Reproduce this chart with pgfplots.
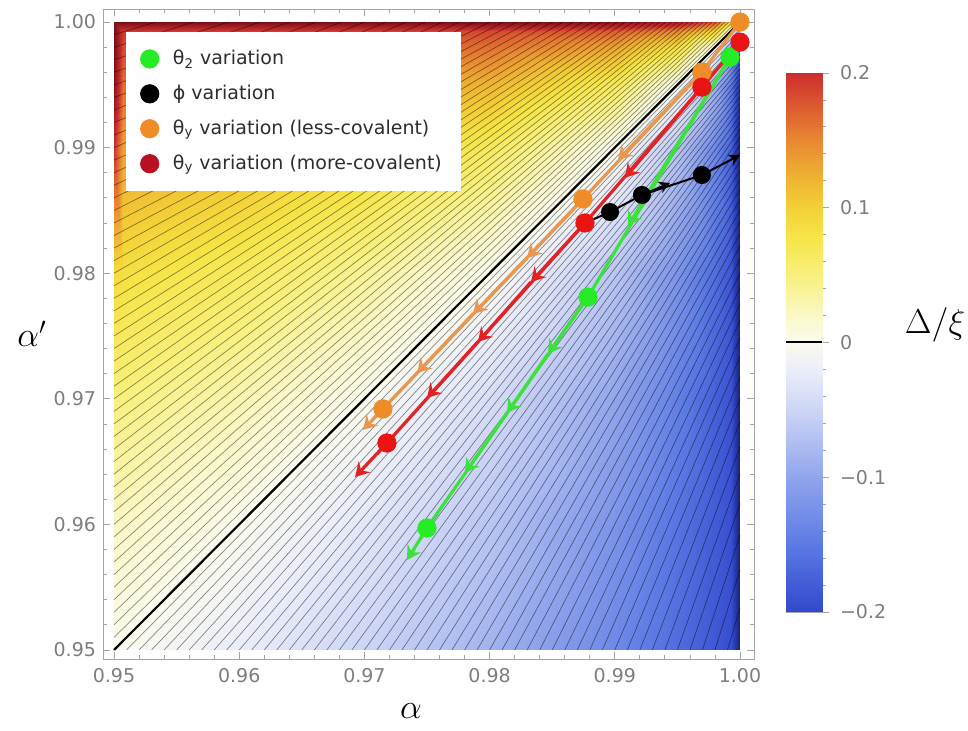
\documentclass[border=0pt]{standalone}
\usepackage[no-math]{fontspec}
\setmainfont{DejaVu Sans}
\usepackage{pgfplots}
\pgfplotsset{compat=1.18}
\usetikzlibrary{arrows.meta}

\definecolor{gline}{RGB}{60,225,60}
\definecolor{gdot}{RGB}{40,235,40}
\definecolor{rline}{RGB}{225,35,35}
\definecolor{rdot}{RGB}{235,20,20}
\definecolor{oline}{RGB}{232,150,80}
\definecolor{odot}{RGB}{240,140,40}
\definecolor{legred}{RGB}{185,15,35}
\definecolor{tickgray}{RGB}{125,125,125}
\definecolor{framegray}{RGB}{165,165,165}
\definecolor{legtext}{RGB}{45,45,45}

\pgfplotsset{
  colormap={delta}{
    rgb255(0cm)=(25,30,110)
    rgb255(12cm)=(50,72,205)
    rgb255(22cm)=(92,122,228)
    rgb255(32cm)=(145,165,236)
    rgb255(42cm)=(205,213,246)
    rgb255(48cm)=(236,238,249)
    rgb255(52cm)=(251,251,238)
    rgb255(56cm)=(250,248,200)
    rgb255(62cm)=(248,240,125)
    rgb255(68cm)=(246,228,70)
    rgb255(72cm)=(243,208,55)
    rgb255(77cm)=(238,175,50)
    rgb255(82cm)=(232,135,50)
    rgb255(87cm)=(220,92,48)
    rgb255(92cm)=(205,45,45)
    rgb255(104cm)=(120,15,22)
  }
}

\begin{document}
\begin{tikzpicture}
\useasboundingbox (-51.5pt,-36pt) rectangle (432.5pt,329.5pt);

\begin{axis}[
  at={(0pt,0pt)}, anchor=south west,
  scale only axis, width=325.5pt, height=325pt,
  xmin=0.94912, xmax=1.00112, ymin=0.94928, ymax=1.00104,
  clip=false,
  axis line style={framegray},
  tick style={framegray, line width=0.4pt},
  tick align=inside, xtick pos=both, ytick pos=both,
  xticklabel pos=lower, yticklabel pos=left,
  major tick length=3.5pt, minor tick length=2pt,
  xtick={0.95,0.96,0.97,0.98,0.99,1},
  ytick={0.95,0.96,0.97,0.98,0.99,1},
  minor tick num=4,
  /pgf/number format/fixed, /pgf/number format/fixed zerofill,
  /pgf/number format/precision=2,
  /pgf/number format/assume math mode=true,
  tick label style={font=\fontsize{9.5}{11}\selectfont, text=tickgray},
  xticklabel shift=1pt,
  point meta min=-0.26, point meta max=0.26, colormap name=delta,
  xlabel={$\alpha$}, ylabel={$\alpha'$},
  every axis x label/.style={at={(axis description cs:0.473,-0.08)}, anchor=center, font=\fontsize{17}{20}\selectfont},
  every axis y label/.style={at={(axis description cs:-0.109,0.5)}, anchor=center, font=\fontsize{17}{20}\selectfont},
  legend style={at={(axis description cs:0.034,0.965)}, anchor=north west, draw=none, fill=white,
    font=\fontsize{9.5}{11}\selectfont, text=legtext, inner xsep=7.5pt, inner ysep=7pt,
    row sep=4.7pt, column sep=5pt},
  legend cell align=left,
]

\addlegendimage{only marks, mark=*, mark size=4.6pt, color=gdot}
\addlegendentry{θ\textsubscript{2} variation}
\addlegendimage{only marks, mark=*, mark size=4.6pt, color=black}
\addlegendentry{ϕ variation}
\addlegendimage{only marks, mark=*, mark size=4.6pt, color=odot}
\addlegendentry{θ\textsubscript{y} variation (less-covalent)}
\addlegendimage{only marks, mark=*, mark size=4.6pt, color=legred}
\addlegendentry{θ\textsubscript{y} variation (more-covalent)}

% background field Delta/xi
\addplot[surf, shader=interp, mesh/cols=10, mesh/rows=9, point meta=explicit, forget plot]
  table[meta=c] {
x y c
0.95 0.95 0
0.9507 0.95 -0.0014
0.96 0.95 -0.0222
0.97 0.95 -0.05
0.98 0.95 -0.0857
0.99 0.95 -0.1333
0.995 0.95 -0.1636
0.998 0.95 -0.1846
0.9993 0.95 -0.1945
1.0 0.95 -0.26
0.95 0.96 0.0222
0.9507 0.96 0.0208
0.96 0.96 0
0.97 0.96 -0.0286
0.98 0.96 -0.0667
0.99 0.96 -0.12
0.995 0.96 -0.1556
0.998 0.96 -0.181
0.9993 0.96 -0.1931
1.0 0.96 -0.26
0.95 0.97 0.05
0.9507 0.97 0.0487
0.96 0.97 0.0286
0.97 0.97 0
0.98 0.97 -0.04
0.99 0.97 -0.1
0.995 0.97 -0.1429
0.998 0.97 -0.175
0.9993 0.97 -0.1909
1.0 0.97 -0.26
0.95 0.98 0.09
0.9507 0.98 0.0846
0.96 0.98 0.0667
0.97 0.98 0.04
0.98 0.98 0
0.99 0.98 -0.0667
0.995 0.98 -0.12
0.998 0.98 -0.1636
0.9993 0.98 -0.1865
1.0 0.98 -0.26
0.95 0.99 0.2
0.9507 0.99 0.1325
0.96 0.99 0.12
0.97 0.99 0.1
0.98 0.99 0.0667
0.99 0.99 0
0.995 0.99 -0.0667
0.998 0.99 -0.1333
0.9993 0.99 -0.1738
1.0 0.99 -0.26
0.95 0.995 0.25
0.9507 0.995 0.1632
0.96 0.995 0.1556
0.97 0.995 0.1429
0.98 0.995 0.12
0.99 0.995 0.0667
0.995 0.995 0
0.998 0.995 -0.0857
0.9993 0.995 -0.1509
1.0 0.995 -0.24
0.95 0.998 0.26
0.9507 0.998 0.1844
0.96 0.998 0.181
0.97 0.998 0.175
0.98 0.998 0.1636
0.99 0.998 0.1333
0.995 0.998 0.0857
0.998 0.998 0
0.9993 0.998 -0.0963
1.0 0.998 -0.18
0.95 0.9993 0.26
0.9507 0.9993 0.1944
0.96 0.9993 0.1931
0.97 0.9993 0.1909
0.98 0.9993 0.1865
0.99 0.9993 0.1738
0.995 0.9993 0.1509
0.998 0.9993 0.0963
0.9993 0.9993 0
1.0 0.9993 -0.1
0.95 1.0 0.26
0.9507 1.0 0.26
0.96 1.0 0.26
0.97 1.0 0.26
0.98 1.0 0.26
0.99 1.0 0.25
0.995 1.0 0.23
0.998 1.0 0.18
0.9993 1.0 0.1
1.0 1.0 0
};

% contour lines (segments separated by nan)
\addplot[draw=black, draw opacity=0.45, line width=0.35pt, unbounded coords=jump, forget plot]
  table {
x y
0.95 0.999
0.95333 1
nan nan
0.95 0.998
0.95636 1
nan nan
0.95 0.997
0.95913 1
nan nan
0.95 0.996
0.96167 1
nan nan
0.95 0.995
0.964 1
nan nan
0.95 0.994
0.96615 1
nan nan
0.95 0.993
0.96815 1
nan nan
0.95 0.992
0.97 1
nan nan
0.95 0.991
0.97172 1
nan nan
0.95 0.990
0.97333 1
nan nan
0.95 0.989
0.97484 1
nan nan
0.95 0.988
0.97625 1
nan nan
0.95 0.987
0.97758 1
nan nan
0.95 0.986
0.97882 1
nan nan
0.95 0.985
0.98 1
nan nan
0.95 0.984
0.98111 1
nan nan
0.95 0.983
0.98216 1
nan nan
0.95 0.982
0.98316 1
nan nan
0.95 0.981
0.9841 1
nan nan
0.95 0.980
0.985 1
nan nan
0.95 0.979
0.98585 1
nan nan
0.95 0.978
0.98667 1
nan nan
0.95 0.977
0.98744 1
nan nan
0.95 0.976
0.98818 1
nan nan
0.95 0.975
0.98889 1
nan nan
0.95 0.974
0.98957 1
nan nan
0.95 0.973
0.99021 1
nan nan
0.95 0.972
0.99083 1
nan nan
0.95 0.971
0.99143 1
nan nan
0.95 0.970
0.992 1
nan nan
0.95 0.969
0.99255 1
nan nan
0.95 0.968
0.99308 1
nan nan
0.95 0.967
0.99358 1
nan nan
0.95 0.966
0.99407 1
nan nan
0.95 0.965
0.99455 1
nan nan
0.95 0.964
0.995 1
nan nan
0.95 0.963
0.99544 1
nan nan
0.95 0.962
0.99586 1
nan nan
0.95 0.961
0.99627 1
nan nan
0.95 0.960
0.99667 1
nan nan
0.95 0.959
0.99705 1
nan nan
0.95 0.958
0.99742 1
nan nan
0.95 0.957
0.99778 1
nan nan
0.95 0.956
0.99813 1
nan nan
0.95 0.955
0.99846 1
nan nan
0.95 0.954
0.99879 1
nan nan
0.95 0.953
0.9991 1
nan nan
0.95 0.952
0.99941 1
nan nan
0.95 0.951
0.99971 1
nan nan
0.999 0.95
1 0.95333
nan nan
0.998 0.95
1 0.95636
nan nan
0.997 0.95
1 0.95913
nan nan
0.996 0.95
1 0.96167
nan nan
0.995 0.95
1 0.964
nan nan
0.994 0.95
1 0.96615
nan nan
0.993 0.95
1 0.96815
nan nan
0.992 0.95
1 0.97
nan nan
0.991 0.95
1 0.97172
nan nan
0.990 0.95
1 0.97333
nan nan
0.989 0.95
1 0.97484
nan nan
0.988 0.95
1 0.97625
nan nan
0.987 0.95
1 0.97758
nan nan
0.986 0.95
1 0.97882
nan nan
0.985 0.95
1 0.98
nan nan
0.984 0.95
1 0.98111
nan nan
0.983 0.95
1 0.98216
nan nan
0.982 0.95
1 0.98316
nan nan
0.981 0.95
1 0.9841
nan nan
0.980 0.95
1 0.985
nan nan
0.979 0.95
1 0.98585
nan nan
0.978 0.95
1 0.98667
nan nan
0.977 0.95
1 0.98744
nan nan
0.976 0.95
1 0.98818
nan nan
0.975 0.95
1 0.98889
nan nan
0.974 0.95
1 0.98957
nan nan
0.973 0.95
1 0.99021
nan nan
0.972 0.95
1 0.99083
nan nan
0.971 0.95
1 0.99143
nan nan
0.970 0.95
1 0.992
nan nan
0.969 0.95
1 0.99255
nan nan
0.968 0.95
1 0.99308
nan nan
0.967 0.95
1 0.99358
nan nan
0.966 0.95
1 0.99407
nan nan
0.965 0.95
1 0.99455
nan nan
0.964 0.95
1 0.995
nan nan
0.963 0.95
1 0.99544
nan nan
0.962 0.95
1 0.99586
nan nan
0.961 0.95
1 0.99627
nan nan
0.960 0.95
1 0.99667
nan nan
0.959 0.95
1 0.99705
nan nan
0.958 0.95
1 0.99742
nan nan
0.957 0.95
1 0.99778
nan nan
0.956 0.95
1 0.99813
nan nan
0.955 0.95
1 0.99846
nan nan
0.954 0.95
1 0.99879
nan nan
0.953 0.95
1 0.9991
nan nan
0.952 0.95
1 0.99941
nan nan
0.951 0.95
1 0.99971
};

% zero contour
\addplot[black, line width=1.1pt, forget plot] coordinates {(0.95,0.95) (1,1)};

% theta_2 variation (green)
\addplot[gline, line width=1.6pt, forget plot] coordinates {
(0.9992,0.9972) (0.98786,0.9781) (0.975,0.95971) (0.9745,0.9589)};
\addplot[gline, line width=1.6pt, -{Stealth[length=7pt,width=8pt,inset=2.5pt]}, forget plot] coordinates {(0.9992,0.9972) (0.99105,0.98376)};
\addplot[gline, line width=1.6pt, -{Stealth[length=7pt,width=8pt,inset=2.5pt]}, forget plot] coordinates {(0.98786,0.9781) (0.98466,0.97357)};
\addplot[gline, line width=1.6pt, -{Stealth[length=7pt,width=8pt,inset=2.5pt]}, forget plot] coordinates {(0.98466,0.97357) (0.98139,0.96887)};
\addplot[gline, line width=1.6pt, -{Stealth[length=7pt,width=8pt,inset=2.5pt]}, forget plot] coordinates {(0.98139,0.96887) (0.97803,0.96409)};
\addplot[gline, line width=1.6pt, -{Stealth[length=7pt,width=8pt,inset=2.5pt]}, forget plot] coordinates {(0.975,0.95971) (0.9734,0.95716)};
\addplot[only marks, mark=*, mark size=4.6pt, color=gdot, forget plot] coordinates {
(0.9992,0.9972) (0.98786,0.9781) (0.975,0.95971)};

% theta_y less covalent (orange)
\addplot[oline, line width=1.6pt, forget plot] coordinates {
(1.0,1.0) (0.99696,0.99602) (0.98746,0.98591) (0.97148,0.96919) (0.9708,0.9685)};
\addplot[oline, line width=1.6pt, -{Stealth[length=7pt,width=8pt,inset=2.5pt]}, forget plot] coordinates {(0.99696,0.99602) (0.99025,0.98901)};
\addplot[oline, line width=1.6pt, -{Stealth[length=7pt,width=8pt,inset=2.5pt]}, forget plot] coordinates {(0.98746,0.98591) (0.98299,0.98121)};
\addplot[oline, line width=1.6pt, -{Stealth[length=7pt,width=8pt,inset=2.5pt]}, forget plot] coordinates {(0.98299,0.98121) (0.97867,0.97675)};
\addplot[oline, line width=1.6pt, -{Stealth[length=7pt,width=8pt,inset=2.5pt]}, forget plot] coordinates {(0.97867,0.97675) (0.9742,0.97205)};
\addplot[oline, line width=1.6pt, -{Stealth[length=7pt,width=8pt,inset=2.5pt]}, forget plot] coordinates {(0.97148,0.96919) (0.96989,0.96752)};
\addplot[only marks, mark=*, mark size=4.6pt, color=odot, forget plot] coordinates {
(1.0,1.0) (0.99696,0.99602) (0.98746,0.98591) (0.97148,0.96919)};

% theta_y more covalent (red)
\addplot[rline, line width=1.6pt, forget plot] coordinates {
(1.0,0.9984) (0.99696,0.99482) (0.98762,0.9840) (0.9718,0.96648) (0.9710,0.9656)};
\addplot[rline, line width=1.6pt, -{Stealth[length=7pt,width=8pt,inset=2.5pt]}, forget plot] coordinates {(0.99696,0.99482) (0.99081,0.98758)};
\addplot[rline, line width=1.6pt, -{Stealth[length=7pt,width=8pt,inset=2.5pt]}, forget plot] coordinates {(0.98762,0.9840) (0.98331,0.9793)};
\addplot[rline, line width=1.6pt, -{Stealth[length=7pt,width=8pt,inset=2.5pt]}, forget plot] coordinates {(0.98331,0.9793) (0.97907,0.97452)};
\addplot[rline, line width=1.6pt, -{Stealth[length=7pt,width=8pt,inset=2.5pt]}, forget plot] coordinates {(0.97907,0.97452) (0.975,0.97006)};
\addplot[rline, line width=1.6pt, -{Stealth[length=7pt,width=8pt,inset=2.5pt]}, forget plot] coordinates {(0.9718,0.96648) (0.96925,0.96377)};
\addplot[only marks, mark=*, mark size=4.6pt, color=rdot, forget plot] coordinates {
(1.0,0.9984) (0.99696,0.99482) (0.98762,0.9840) (0.9718,0.96648)};

% phi variation (black)
\addplot[black, line width=1pt, forget plot] coordinates {
(0.98762,0.9840) (0.98962,0.98487) (0.99217,0.98623) (0.99696,0.98782)};
\addplot[black, line width=1pt, -{Stealth[length=5.5pt,width=6pt,inset=1.8pt]}, forget plot] coordinates {(0.99217,0.98623) (0.99441,0.98718)};
\addplot[black, line width=1pt, -{Stealth[length=5.5pt,width=6pt,inset=1.8pt]}, forget plot] coordinates {(0.99696,0.98782) (1.0,0.98941)};
\addplot[only marks, mark=*, mark size=4.3pt, color=black, forget plot] coordinates {
(0.98962,0.98487) (0.99217,0.98623) (0.99696,0.98782)};
\end{axis}

% colour bar
\begin{axis}[
  at={(341.5pt,23.5pt)}, anchor=south west,
  scale only axis, width=18pt, height=269.5pt,
  xmin=0, xmax=1, ymin=-0.2, ymax=0.2,
  xtick=\empty,
  ytick={-0.2,-0.1,0,0.1,0.2},
  yticklabels={−0.2,−0.1,0,0.1,0.2},
  minor y tick num=4,
  ytick pos=right, yticklabel pos=right,
  tick align=outside, major tick length=3.5pt, minor tick length=2pt,
  axis line style={framegray},
  tick style={framegray, line width=0.4pt},
  tick label style={font=\fontsize{9.5}{11}\selectfont, text=tickgray, anchor=west},
  yticklabel shift=2pt,
  point meta min=-0.26, point meta max=0.26, colormap name=delta,
]
\addplot[surf, shader=interp, mesh/cols=2, mesh/rows=14, point meta=explicit]
  table[meta=c] {
x y c
0 -0.2 -0.2
1 -0.2 -0.2
0 -0.15 -0.15
1 -0.15 -0.15
0 -0.1 -0.1
1 -0.1 -0.1
0 -0.05 -0.05
1 -0.05 -0.05
0 -0.02 -0.02
1 -0.02 -0.02
0 0 0
1 0 0
0 0.02 0.02
1 0.02 0.02
0 0.05 0.05
1 0.05 0.05
0 0.08 0.08
1 0.08 0.08
0 0.1 0.1
1 0.1 0.1
0 0.125 0.125
1 0.125 0.125
0 0.15 0.15
1 0.15 0.15
0 0.175 0.175
1 0.175 0.175
0 0.2 0.2
1 0.2 0.2
};
\addplot[black, line width=1pt] coordinates {(0,0) (1,0)};
\end{axis}

\node[font=\fontsize{17}{20}\selectfont] at (416pt,167pt) {$\Delta/\xi$};
\end{tikzpicture}
\end{document}
